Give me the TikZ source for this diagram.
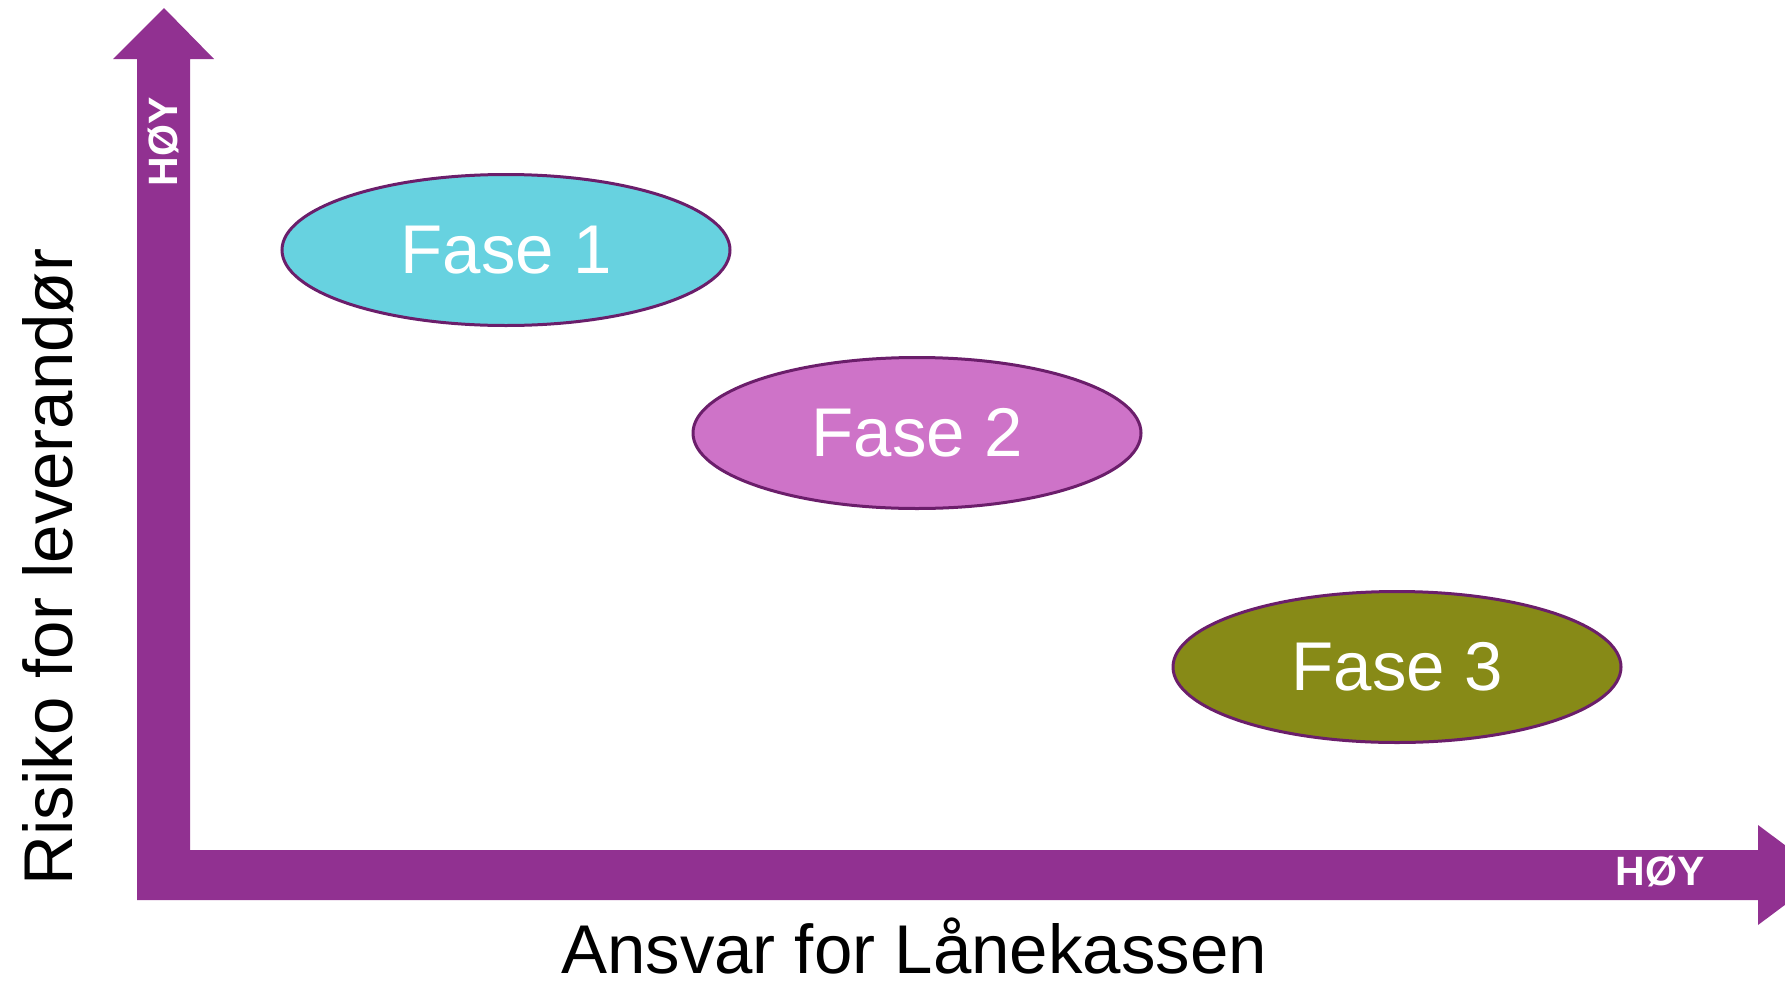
\documentclass[tikz,border=0pt]{standalone}
\usepackage{fontspec}
\setmainfont{Liberation Sans}
\usepackage{tikz}
\usetikzlibrary{shapes}
\definecolor{akse}{HTML}{913191}
\definecolor{kant}{HTML}{6B1E6B}
\definecolor{fase1}{HTML}{67D2E0}
\definecolor{fase2}{HTML}{CE73C8}
\definecolor{fase3}{HTML}{878A17}
\tikzstyle{fase} = [ellipse, draw=kant, line width=3pt, text=white,
    minimum width=448pt, minimum height=151pt, inner sep=0pt,
    font=\fontsize{69}{80}\selectfont]
\tikzstyle{aksetekst} = [anchor=base, inner sep=0pt, text depth=0pt,
    font=\fontsize{69}{80}\selectfont]
\tikzstyle{hoy} = [anchor=base, inner sep=0pt, text=white,
    font=\fontsize{41}{48}\selectfont\bfseries]

\begin{document}
\begin{tikzpicture}[x=1pt,y=-1pt]
  \useasboundingbox (0,0) rectangle (1785,980);

  % akser
  \fill[akse] (137,900) -- (137,59) -- (113,59) -- (164,8) -- (214,59)
    -- (190,59) -- (190,850) -- (1758,850) -- (1758,825) -- (1825,875)
    -- (1758,925) -- (1758,900) -- cycle;

  \node[fase, fill=fase1]  (1) at (506,250) {Fase 1};
  \node[fase, fill=fase2]  (2) at (917,433) {Fase 2};
  \node[fase, fill=fase3]  (3) at (1397,667) {Fase 3};

  \node[aksetekst]            (x) at (914,973) {Ansvar for Lånekassen};
  \node[aksetekst, rotate=90] (y) at (72,567) {Risiko for leverandør};
  \node[hoy, rotate=90]       (yh) at (177,142) {HØY};
  \node[hoy]                  (xh) at (1660,885) {HØY};
\end{tikzpicture}
\end{document}
